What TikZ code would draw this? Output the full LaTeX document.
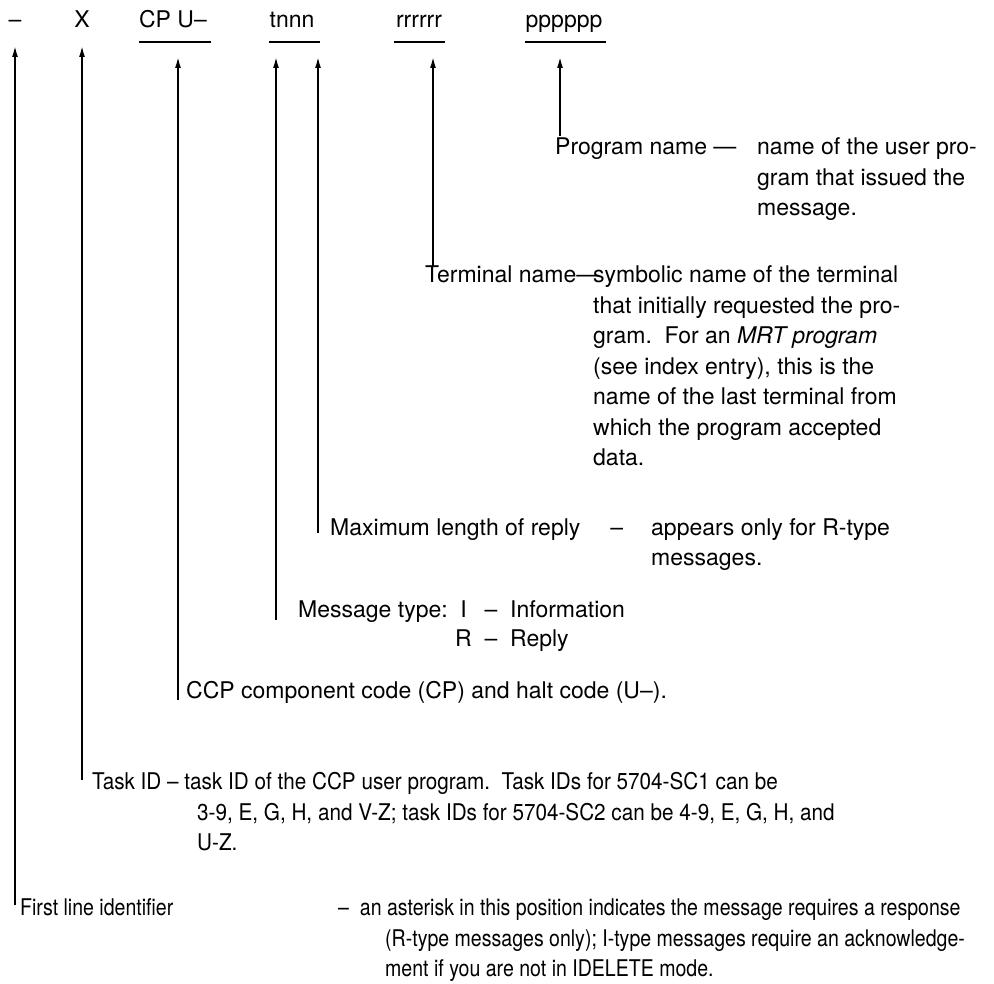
\documentclass[tikz,border=0pt]{standalone}
\usepackage{fontspec}
\setmainfont{TeX Gyre Heros}
\newfontfamily\narrowfont[FakeStretch=0.9]{TeX Gyre Heros}
\newfontfamily\narrowerfont[FakeStretch=0.85]{TeX Gyre Heros}
\usepackage{tikz}
\usetikzlibrary{arrows.meta}
% lines of a text block, aligned on the baseline of the first line
\newcommand{\textlines}[1]{\begin{tabular}[t]{@{}l@{}}#1\end{tabular}}

\begin{document}
\begin{tikzpicture}[x=1pt, y=-1pt, font=\fontsize{23}{30.5}\selectfont,
  field/.style={anchor=base, inner sep=0pt},
  caption/.style={anchor=base west, inner sep=0pt},
  narrow/.style={font=\narrowfont\fontsize{23}{30.5}\selectfont},
  narrower/.style={font=\narrowerfont\fontsize{23}{30.5}\selectfont},
  pointer/.style={->, >={Latex[length=11pt, width=6pt]}, line width=1.6pt},
  rule/.style={line width=1.6pt},
]
\useasboundingbox (0,0) rectangle (994,984);

% message fields
\node[field] (ident) at (15, 28) {\textendash};
\node[field] (task) at (82, 28) {X};
\node[field] (comp) at (173, 28) {CP U\textendash};
\node[field] (type) at (292, 28) {tnnn};
\node[field] (term) at (419, 28) {rrrrrr};
\node[field] (prog) at (564, 28) {pppppp};
\coordinate (top) at (0, 46);
\coordinate (under) at (0, 57);

\draw[rule] ([yshift=-14pt]comp.base west) -- ([yshift=-14pt, xshift=4pt]comp.base east);
\draw[rule] ([yshift=-14pt]type.base west) -- ([yshift=-14pt, xshift=5pt]type.base east);
\draw[rule] ([yshift=-14pt, xshift=-2pt]term.base west) -- ([yshift=-14pt, xshift=3pt]term.base east);
\draw[rule] ([yshift=-14pt]prog.base west) -- ([yshift=-14pt, xshift=3pt]prog.base east);

% explanations
\node[caption] (progname) at (555, 155) {Program name \textemdash};
\node[caption] (progtext) at (757, 155) {\textlines{name of the user pro-\\gram that issued the\\message.}};

\node[caption] (termname) at (425, 283) {Terminal name\textemdash};
\node[caption] (termtext) at (593, 283) {\textlines{symbolic name of the terminal\\that initially requested the pro-\\gram.\ \ For an \textit{MRT program}\\(see index entry), this is the\\name of the last terminal from\\which the program accepted\\data.}};

\node[caption] (lenname) at (330, 535) {Maximum length of reply\hspace{30pt}\textendash};
\node[caption] (lentext) at (651, 535) {\textlines{appears only for R-type\\messages.}};

\node[caption] (typename) at (298, 617) {Message type:};
\node[caption] (typetext) at (455, 617) {\begin{tabular}[t]{@{}c@{\ \ }l@{}}I & \textendash\ \ Information\\[-1pt] R & \textendash\ \ Reply\end{tabular}};

\node[caption] (compname) at (186, 698) {CCP component code (CP) and halt code (U\textendash).};

\node[caption, narrow] (taskname) at (92, 789)
  {Task ID \textendash\ task ID of the CCP user program.\ \ Task IDs for 5704-SC1 can be};
\node[caption, narrow] (tasktext) at (197, 820)
  {\textlines{3-9, E, G, H, and V-Z; task IDs for 5704-SC2 can be 4-9, E, G, H, and\\U-Z.}};

\node[caption, narrower] (identname) at (20, 915) {First line identifier};
\node[caption, narrower] (identtext) at (338, 915)
  {\textendash\ \ an asterisk in this position indicates the message requires a response};
\node[caption, narrower] (identmore) at (385, 946)
  {\textlines{(R-type messages only); I-type messages require an acknowledge-\\ment if you are not in IDELETE mode.}};

% pointers
\coordinate (f-prog) at (560, 136);
\coordinate (f-term) at (433, 266);
\coordinate (f-len) at (318, 533);
\coordinate (f-type) at (276, 620);
\coordinate (f-comp) at (178, 700);
\coordinate (f-task) at (82, 780);
\coordinate (f-ident) at (15, 905);

\draw[pointer] (f-prog) -- (f-prog |- under);
\draw[pointer] (f-term) -- (f-term |- under);
\draw[pointer] (f-len) -- (f-len |- under);
\draw[pointer] (f-type) -- (f-type |- under);
\draw[pointer] (f-comp) -- (f-comp |- under);
\draw[pointer] (f-task) -- (f-task |- top);
\draw[pointer] (f-ident) -- (f-ident |- top);
\end{tikzpicture}
\end{document}
